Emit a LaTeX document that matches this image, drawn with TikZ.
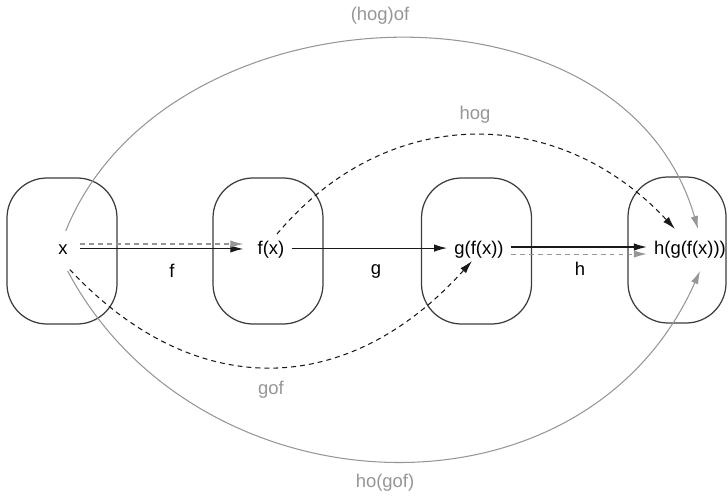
\documentclass[tikz,border=0pt]{standalone}
\usepackage{fontspec}
\setmainfont{Liberation Sans}
\usepackage{xcolor}
\definecolor{fnblack}{RGB}{25,25,25}
\definecolor{fngray}{RGB}{150,150,150}
\definecolor{fnedge}{RGB}{60,60,60}
\usetikzlibrary{arrows.meta,positioning}

\begin{document}
\begin{tikzpicture}[
  fnbox/.style={draw=fnedge,line width=0.7pt,rounded corners=0.8cm,
    minimum width=2.2cm,minimum height=2.92cm,inner sep=0pt},
  fntext/.style={inner sep=4pt,font=\fontsize{10.5}{12}\selectfont},
  fnlabel/.style={inner sep=0pt,font=\fontsize{10.5}{12}\selectfont},
  fnarr/.style={-{Latex[length=2.6mm,width=1.5mm]},line width=0.6pt,fnblack},
  fngrayarr/.style={-{Latex[length=2.6mm,width=1.5mm]},line width=0.6pt,fngray},
  fndash/.style={dash pattern=on 2.8pt off 2.3pt}
]
  \useasboundingbox (0,0) rectangle (14.56,9.9);

  % Boxes
  \node[fnbox] (bx) at (1.24,4.88) {};
  \node[fnbox] (bfx) at (5.36,4.88) {};
  \node[fnbox] (bgfx) at (9.53,4.88) {};
  \node[fnbox,minimum width=1.96cm] (bhgfx) at (13.54,4.90) {};

  % Values
  \node[fntext] (tx) at (1.26,4.90) {x};
  \node[fntext] (tfx) at (5.42,4.90) {f(x)};
  \node[fntext] (tgfx) at (9.58,4.90) {g(f(x))};
  \node[fntext] (thgfx) at (13.80,4.90) {h(g(f(x)))};

  % Straight maps
  \draw[fnarr,shorten <=3pt,shorten >=4pt] ([yshift=0.6pt]tx.east) -- ([yshift=0.6pt]tfx.west);
  \draw[fngrayarr,fndash,shorten <=3pt,shorten >=4pt] ([yshift=3.4pt]tx.east) -- ([yshift=3.4pt]tfx.west);
  \draw[fnarr] ([yshift=1.1pt]tfx.east) -- ([yshift=1.1pt]tgfx.west);
  \draw[fnarr] ([yshift=1.7pt]tgfx.east) -- ([yshift=1.7pt]thgfx.west);
  \draw[fngrayarr,fndash] ([yshift=-2.3pt]tgfx.east) -- ([yshift=-2.3pt]thgfx.west);

  \node[fnlabel] (lf) at (3.44,4.48) {f};
  \node[fnlabel] (lg) at (7.52,4.48) {g};
  \node[fnlabel] (lh) at (11.60,4.52) {h};

  % Composed maps
  \draw[fngrayarr,shorten <=0.15cm] (tx.north) to[out=68,in=106,looseness=1.1]
    ([shift={(0.16cm,0.1cm)}]thgfx.north);
  \draw[fnarr,fndash] ([xshift=0.12cm]tfx.north) to[out=50,in=133,looseness=1.1]
    ([shift={(-0.3cm,0.1cm)}]thgfx.north);
  \draw[fnarr,fndash,shorten <=0.2cm] (tx.south) to[out=-47,in=-132,looseness=1.18]
    ([shift={(-0.14cm,0.1cm)}]tgfx.south);
  \draw[fngrayarr,shorten <=0.2cm] (tx.south) to[out=-62,in=-114,looseness=1.15]
    ([shift={(0.2cm,-0.1cm)}]thgfx.south);

  \node[fnlabel,text=fngray] (lhogf) at (7.60,9.58) {(hog)of};
  \node[fnlabel,text=fngray] (lhog) at (9.50,7.60) {hog};
  \node[fnlabel,text=fngray] (lgof) at (5.42,2.10) {gof};
  \node[fnlabel,text=fngray] (lhgof) at (7.70,0.24) {ho(gof)};
\end{tikzpicture}
\end{document}
